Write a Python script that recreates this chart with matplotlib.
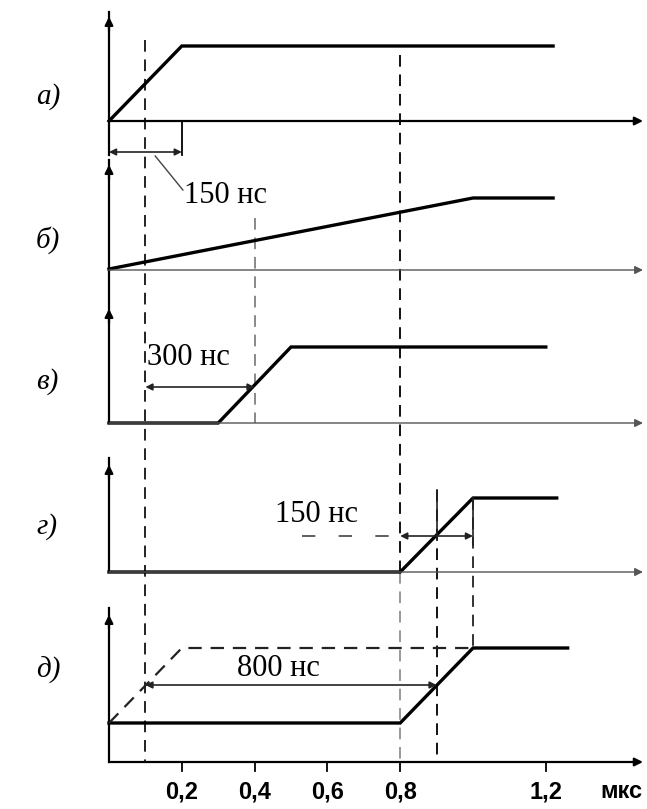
import matplotlib
matplotlib.use('Agg')
import matplotlib.pyplot as plt

# time axis in мкс, vertical positions in picture rows
row_labels = ['а)', 'б)', 'в)', 'г)', 'д)']
label_y = [97, 240, 382, 527, 670]
base_y = [121, 269, 423, 572, 723]
high_y = [46, 198, 347, 498, 648]
axis_top = [12, 160, 272, 458, 608]
arrow_y = [14, 162, 306, 462, 612]
xaxis_y = [121, 270, 423, 572, 762]

sig_t = [[0, 0.2, 1.22],
         [0, 1.0, 1.22],
         [0, 0.3, 0.5, 1.2],
         [0, 0.8, 1.0, 1.23],
         [0, 0.8, 1.0, 1.26]]
sig_v = [[0, 1, 1],
         [0, 1, 1],
         [0, 0, 1, 1],
         [0, 0, 1, 1],
         [0, 0, 1, 1]]
dash_t = [0, 0.2, 1.0]
dash_v = [0, 1, 1]

tick_vals = [0.2, 0.4, 0.6, 0.8, 1.2]
tick_text = ['0,2', '0,4', '0,6', '0,8', '1,2']
unit = 'мкс'

# dimension marks: (t1, t2, y, text, text_t, text_y)
dims = [(0.0, 0.2, 152, '150 нс', 0.207, 195),
        (0.1, 0.4, 387, '300 нс', 0.105, 357),
        (0.8, 1.0, 536, '150 нс', 0.455, 515),
        (0.1, 0.9, 685, '800 нс', 0.352, 668)]

px = 364.0
t0 = -109 / px
t_end = (643 - 109) / px

fig = plt.figure(figsize=(6.47, 8.09), dpi=100)
ax = fig.add_axes([0, 0, 1, 1])
ax.set_xlim(t0, (647 - 109) / px)
ax.set_ylim(809, 0)
ax.axis('off')

def lvl(i, v):
    return [base_y[i] + (high_y[i] - base_y[i]) * a for a in v]

# vertical guide lines
dash = (0, (6, 4))
ax.plot([0.1, 0.1], [40, 762], color='#222', lw=1.4, ls=dash)
ax.plot([0.8, 0.8], [55, 572], color='#111', lw=1.4, ls=dash)
ax.plot([0.8, 0.8], [572, 762], color='#999', lw=1.4, ls=dash)
ax.plot([0.4, 0.4], [218, 423], color='#888', lw=1.4, ls=dash)
ax.plot([0.9, 0.9], [490, 762], color='#111', lw=1.4, ls=dash)
ax.plot([1.0, 1.0], [498, 648], color='#333', lw=1.4, ls=dash)

for i in range(5):
    # vertical axis with arrow
    ax.plot([0, 0], [xaxis_y[i], axis_top[i]], color='k', lw=1.6)
    ax.annotate('', xy=(0, arrow_y[i]), xytext=(0, arrow_y[i] + 20),
                arrowprops=dict(arrowstyle='-|>', color='k', lw=1.6, mutation_scale=12))
    # horizontal axis
    c = 'k' if i in (0, 4) else '#555'
    lw = 1.6 if i in (0, 4) else 1.0
    ax.annotate('', xy=(t_end, xaxis_y[i]), xytext=(0, xaxis_y[i]),
                arrowprops=dict(arrowstyle='-|>', color=c, lw=lw, mutation_scale=12,
                                shrinkA=0, shrinkB=0))
    # signal
    ax.plot(sig_t[i], lvl(i, sig_v[i]), color='k', lw=2.4, solid_joinstyle='miter')
    ax.text(-0.2, label_y[i], row_labels[i], fontsize=21, style='italic',
            family='Liberation Serif', va='center', ha='left')

ax.plot(dash_t, lvl(4, dash_v), color='#222', lw=1.6, ls=(0, (6, 4)))

# dimension marks
ax.plot([0.2, 0.2], [121, 155], color='k', lw=1.3)
ax.plot([0, 0], [121, 155], color='k', lw=1.6)
ax.plot([0.127, 0.203], [156, 190], color='#444', lw=1.0)
ax.plot([0.53, 0.8], [536, 536], color='#444', lw=1.2, ls=(0, (8, 14)))
ax.plot([0.9, 0.9], [490, 540], color='#222', lw=1.2)
ax.plot([1.0, 1.0], [498, 545], color='#222', lw=1.2)
for t1, t2, y, s, tx, ty in dims:
    ax.annotate('', xy=(t2, y), xytext=(t1, y),
                arrowprops=dict(arrowstyle='<|-|>', color='#222', lw=1.2, mutation_scale=10,
                                shrinkA=0, shrinkB=0))
    ax.text(tx, ty, s, fontsize=22, family='Liberation Serif', va='center', ha='left')

# x ticks
for v, s in zip(tick_vals, tick_text):
    ax.plot([v, v], [762, 771], color='k', lw=1.3)
    ax.text(v, 792, s, fontsize=17, fontweight='bold', family='Liberation Sans',
            ha='center', va='center')
ax.text((621 - 109) / px, 792, unit, fontsize=17, fontweight='bold', family='Liberation Sans',
        ha='center', va='center')

fig.savefig('out.png', dpi=100)
